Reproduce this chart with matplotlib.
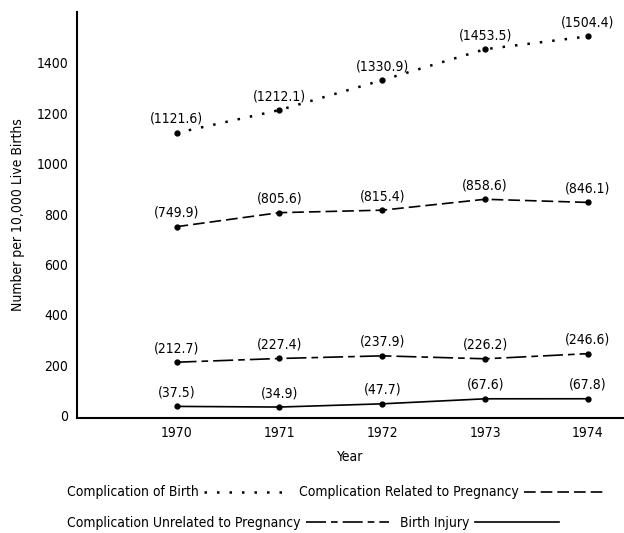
import matplotlib
matplotlib.use('Agg')
import matplotlib.pyplot as plt
from matplotlib.lines import Line2D

# data
years = [1970, 1971, 1972, 1973, 1974]
compBirth = [1121.6, 1212.1, 1330.9, 1453.5, 1504.4]
compRelated = [749.9, 805.6, 815.4, 858.6, 846.1]
compUnrelated = [212.7, 227.4, 237.9, 226.2, 246.6]
birthInjury = [37.5, 34.9, 47.7, 67.6, 67.8]
yTicks = [0, 200, 400, 600, 800, 1000, 1200, 1400]

seriesNames = ['Complication of Birth',
               'Complication Related to Pregnancy',
               'Complication Unrelated to Pregnancy',
               'Birth Injury']

plt.rcParams['font.family'] = ['Liberation Sans Narrow', 'DejaVu Sans Condensed', 'DejaVu Sans']
plt.rcParams['font.stretch'] = 'condensed'

fig = plt.figure(figsize=(6.24, 5.33), dpi=100)
ax = fig.add_axes([0.123, 0.216, 0.877, 0.761])

styles = [(0, (1, 4)), (0, (7, 3)), (0, (12, 3, 4, 3)), '-']
widths = [1.8, 1.2, 1.2, 1.2]
allSeries = [compBirth, compRelated, compUnrelated, birthInjury]

handles = []
for vals, ls, lw, name in zip(allSeries, styles, widths, seriesNames):
  ax.plot(years, vals, color='black', linestyle=ls, linewidth=lw)
  ax.plot(years, vals, 'o', color='black', markersize=3.5)
  for x, y in zip(years, vals):
    ax.annotate('({})'.format(y), (x, y), xytext=(0, 5), textcoords='offset points',
                ha='center', va='bottom', fontsize=10)
  handles.append(Line2D([0], [0], color='black', linestyle=ls, linewidth=lw, label=name))

ax.set_xlim(1969.03, 1974.35)
ax.set_ylim(-8, 1600)
ax.set_xticks(years)
ax.set_yticks(yTicks)
ax.tick_params(length=0, labelsize=10, pad=6)
ax.spines['top'].set_visible(False)
ax.spines['right'].set_visible(False)
ax.spines['left'].set_linewidth(1.5)
ax.spines['bottom'].set_linewidth(1.5)
ax.set_xlabel('Year', fontsize=10, labelpad=7)
ax.set_ylabel('Number per 10,000 Live Births', fontsize=10, labelpad=8)

# two legend rows, label first then line sample
fig.legend(handles=[handles[0], handles[1]], ncol=2, markerfirst=False, frameon=False,
           loc='center left', bbox_to_anchor=(0.107, 0.076), fontsize=10,
           handlelength=6, columnspacing=0.8, handletextpad=0.4,
           borderpad=0, borderaxespad=0)
fig.legend(handles=[handles[2], handles[3]], ncol=2, markerfirst=False, frameon=False,
           loc='center left', bbox_to_anchor=(0.107, 0.019), fontsize=10,
           handlelength=6, columnspacing=0.8, handletextpad=0.4,
           borderpad=0, borderaxespad=0)

fig.savefig('out.png', dpi=100)
